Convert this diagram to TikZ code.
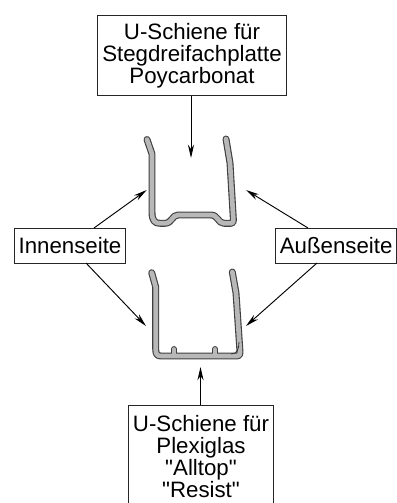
\documentclass[tikz,border=0pt]{standalone}
\usepackage{fontspec}
\newfontfamily\labelfont{Liberation Sans}
\usetikzlibrary{arrows.meta}
\tikzset{
  label box/.style={draw=black!85,line width=0.75pt,fill=white,inner sep=0pt,align=center,font=\labelfont\fontsize{16.7pt}{16.6pt}\selectfont,anchor=north west},
  pointer/.style={draw=black,line width=0.7pt,-{Stealth[length=10pt,width=4.6pt]}},
  rail out/.style={line width=5.2pt,draw=black!75,line cap=round,line join=round},
  rail in/.style={line width=3.5pt,draw=black!28,line cap=round,line join=round},
  rib out/.style={line width=4.4pt,draw=black!75,line cap=round},
  rib in/.style={line width=2.7pt,draw=black!28,line cap=round}
}
\newcommand{\railA}{(147,139.5) -- (152,154) -- (152,212) .. controls (152,221) and (155,223.3) .. (160,223.3) -- (165,223.3) .. controls (172,223.3) and (172,215) .. (178,215) -- (211,215) .. controls (218,215) and (218,223.3) .. (224,223.3) -- (231,223.3) .. controls (233,223.3) and (233.5,222) .. (233.4,220) -- (230,163) -- (226,139)}
\newcommand{\railB}{(151.7,272.7) -- (155.7,287) -- (155.7,349) .. controls (155.7,354) and (157,356) .. (161,356) -- (237,356) .. controls (239.5,356) and (240,355) .. (240,352) -- (236,293) -- (232.3,272)}
\begin{document}
\begin{tikzpicture}[x=0.75pt,y=-0.75pt]
\useasboundingbox (0,0) rectangle (396,503);
\fill[white] (0,0) rectangle (396,503);
\draw[rib out] (174,355) -- (174,349);
\draw[rib out] (215,355) -- (215,349);
\draw[rail out] \railA;
\draw[rail in] \railA;
\draw[rail out] \railB;
\draw[rail in] \railB;
\draw[rib in] (174,356) -- (174,349);
\draw[rib in] (215,356) -- (215,349);
\draw[black!80,line width=0.6pt] (239,342) .. controls (239,349) and (237,354) .. (231,354);
\node[label box,minimum width=141.75pt,minimum height=60pt] (top) at (97,15) {U-Schiene für\\Stegdreifachplatte\\Poycarbonat};
\node[label box,minimum width=83.25pt,minimum height=26.25pt] (inner) at (14,228) {Innenseite};
\node[label box,minimum width=91pt,minimum height=26.25pt] (outer) at (275,228) {Außenseite};
\node[label box,minimum width=108.75pt,minimum height=77pt] (bottom) at (128,405) {U-Schiene für\\Plexiglas\\"Alltop"\\"Resist"};
\coordinate (t1) at (191,158);
\coordinate (b1) at (200.5,367);
\coordinate (i1) at (146.7,190);
\coordinate (i2) at (146,326);
\coordinate (o1) at (246,190);
\coordinate (o2) at (246,326);
\coordinate (is1) at (94,228);
\coordinate (is2) at (86,263);
\coordinate (os1) at (308,228);
\coordinate (os2) at (317,263);
\draw[pointer] (top.south -| t1) -- (t1);
\draw[pointer] (bottom.north -| b1) -- (b1);
\draw[pointer] (is1) -- (i1);
\draw[pointer] (is2) -- (i2);
\draw[pointer] (os1) -- (o1);
\draw[pointer] (os2) -- (o2);
\end{tikzpicture}
\end{document}
